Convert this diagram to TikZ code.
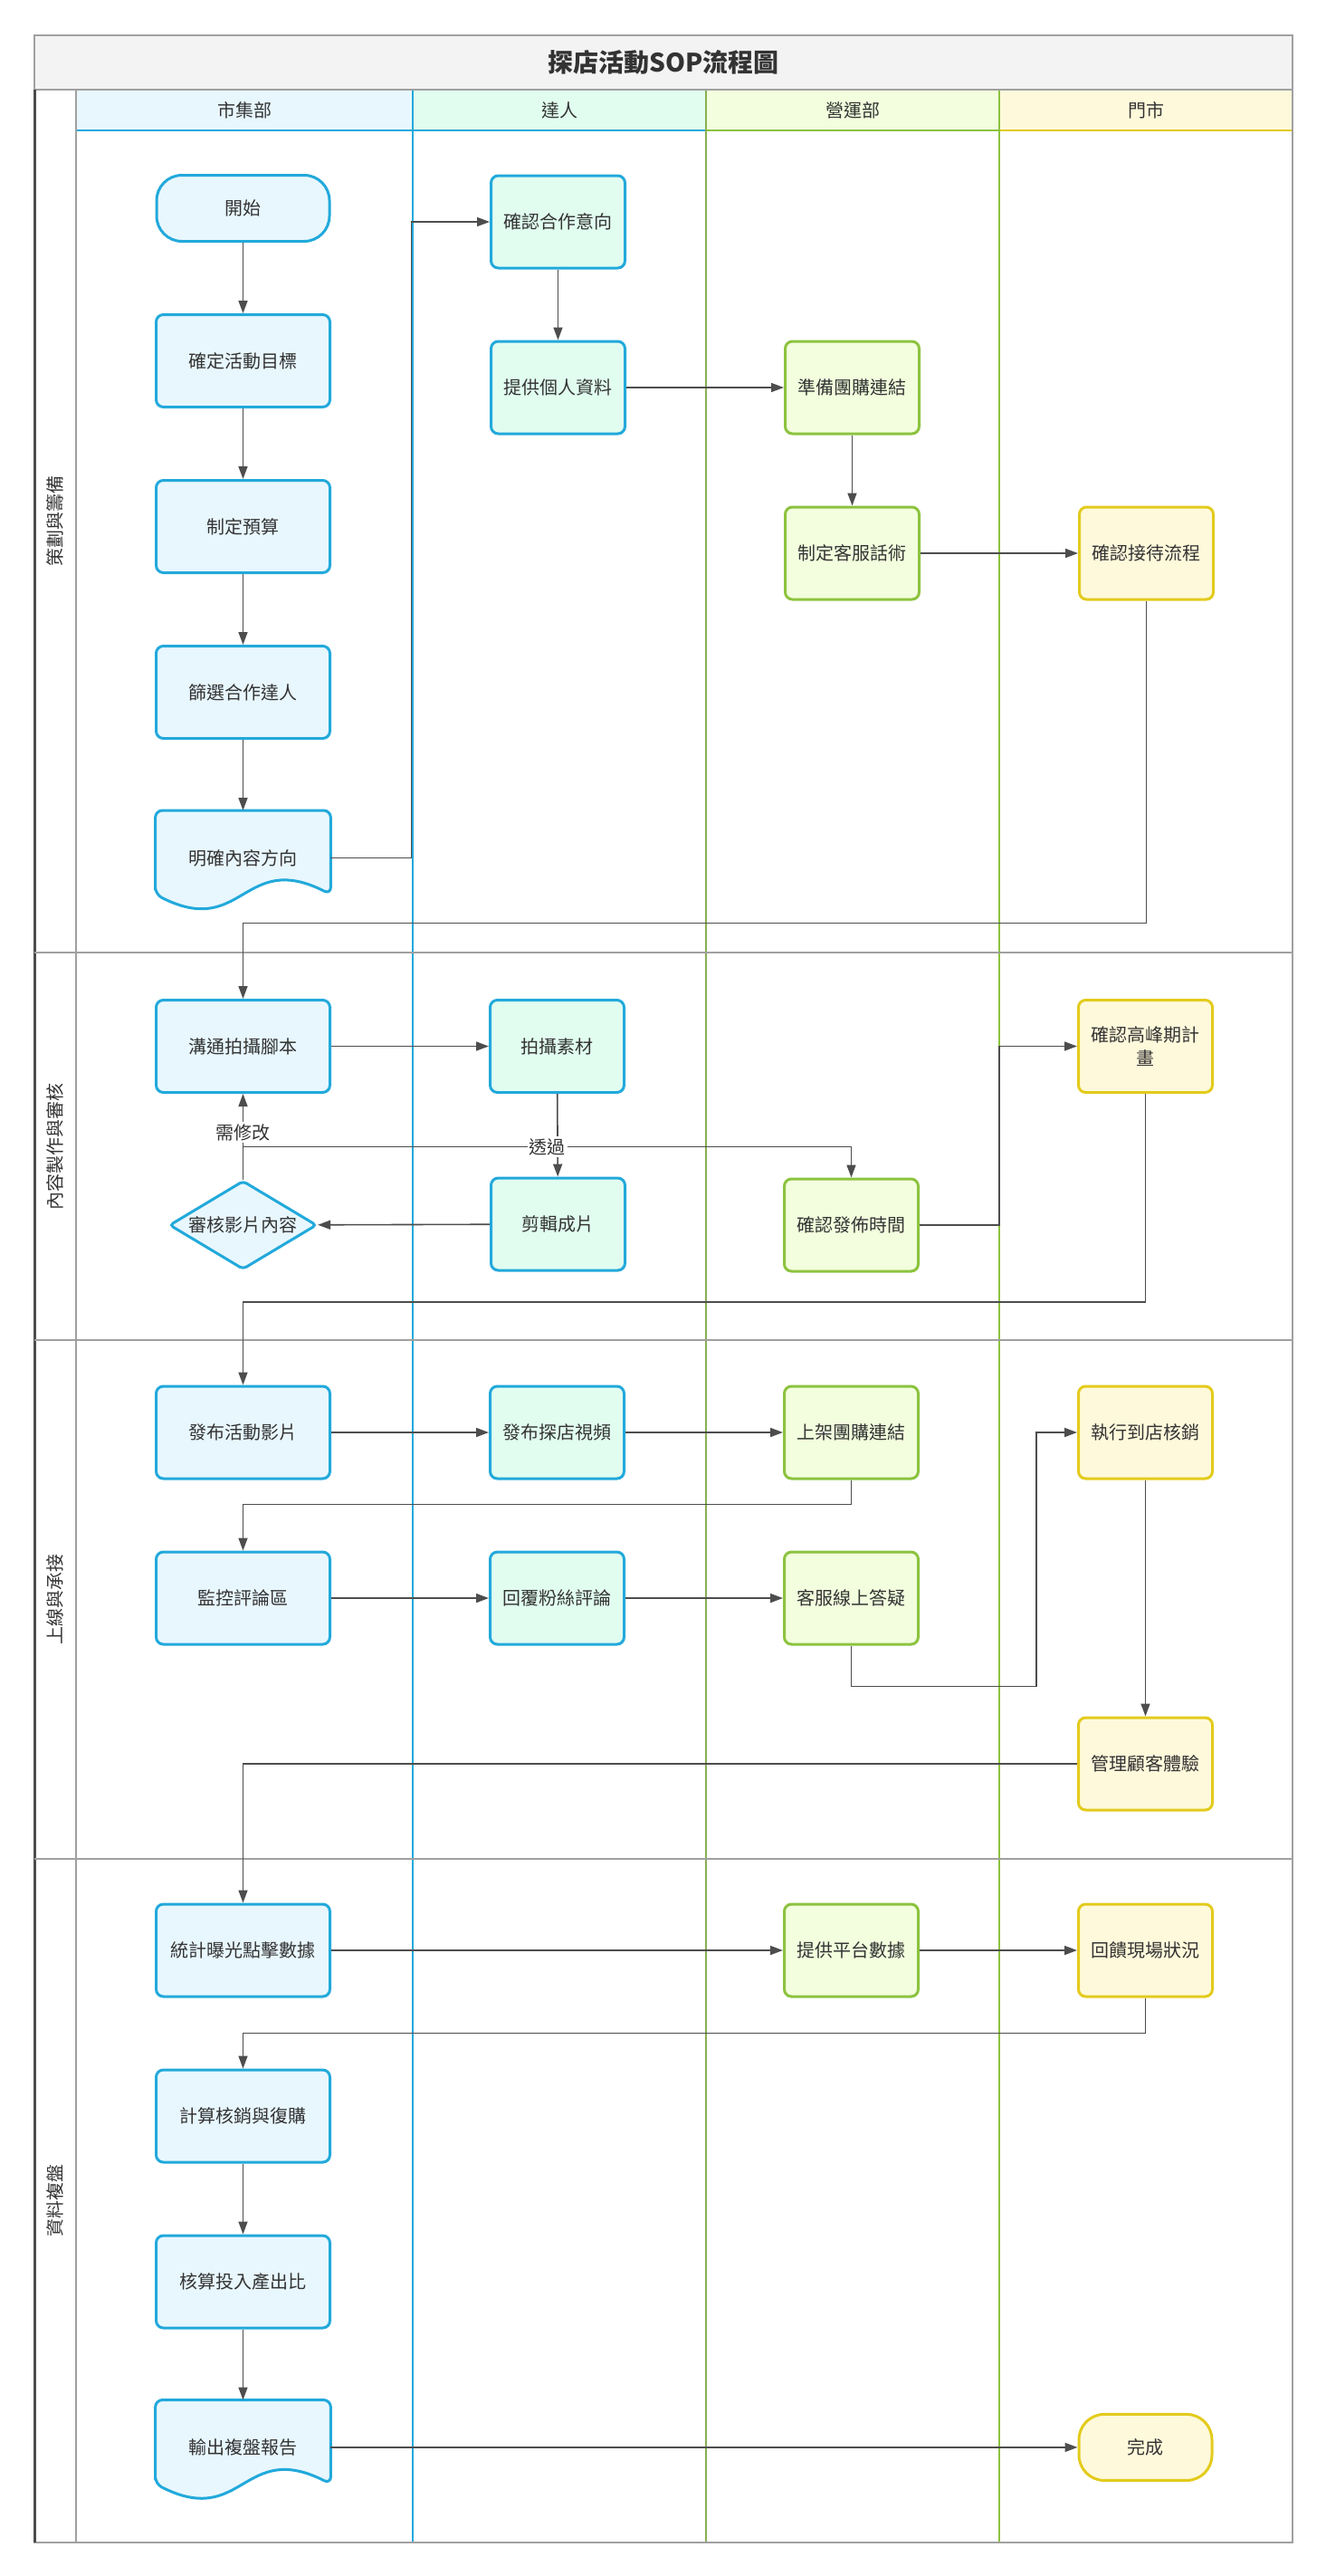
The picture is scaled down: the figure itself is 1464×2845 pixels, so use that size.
\documentclass[tikz,border=0pt]{standalone}
\usepackage{fontspec}
\setmainfont{Noto Sans CJK TC}
\usepackage{xcolor}
\usepackage{tikz}
\usetikzlibrary{arrows.meta, positioning, shapes.geometric, calc}
\pgfdeclarelayer{background}
\pgfsetlayers{background,main}

\definecolor{mktfill}{HTML}{E8F7FE}
\definecolor{kolfill}{HTML}{E1FDF0}
\definecolor{opsfill}{HTML}{F2FEDD}
\definecolor{shopfill}{HTML}{FFF9DB}
\definecolor{blueline}{HTML}{22A9DB}
\definecolor{greenline}{HTML}{8CC33F}
\definecolor{yellowline}{HTML}{E3CB1C}
\definecolor{edgegray}{HTML}{4D4D4D}
\definecolor{framegray}{HTML}{A0A0A0}
\definecolor{titlefill}{HTML}{F3F3F3}
\definecolor{textgray}{HTML}{333333}

\newcommand{\drawdoc}[2]{%
  \begin{pgfonlayer}{background}
    \draw[line width=1.5pt, draw=#2, fill=mktfill, rounded corners=4pt]
      ($(#1.south west)+(0,-12)$) -- (#1.north west) -- (#1.north east)
      -- ($(#1.south east)+(0,-12)$)
      .. controls ($(#1.south)+(0,-61)$) and ($(#1.south)+(0,37)$) .. ($(#1.south west)+(0,-12)$) -- cycle;
  \end{pgfonlayer}}

\begin{document}
\begin{tikzpicture}[
    x=0.5pt, y=-0.5pt,
    node distance=39pt and 87pt,
    txt/.style={text=textgray, font=\fontsize{10pt}{13pt}\selectfont},
    box/.style={txt, rectangle, rounded corners=4pt, line width=1.5pt, minimum width=74pt, minimum height=51pt, align=center, inner sep=2pt},
    mkt/.style={box, draw=blueline, fill=mktfill, minimum width=96pt},
    kol/.style={box, draw=blueline, fill=kolfill},
    ops/.style={box, draw=greenline, fill=opsfill},
    shop/.style={box, draw=yellowline, fill=shopfill},
    term/.style={txt, rectangle, rounded corners=14pt, line width=1.5pt, minimum height=36.5pt},
    decision/.style={txt, diamond, rounded corners=2pt, draw=blueline, fill=mktfill, line width=1.5pt, aspect=1.64, minimum width=81.5pt, minimum height=49pt, inner sep=0pt},
    doc/.style={txt, rectangle, minimum width=96.5pt, minimum height=52pt},
    head/.style={txt},
    phase/.style={txt, rotate=90},
    lbl/.style={txt, fill=white, inner sep=1pt},
    arrow/.style={-{Triangle[length=7pt, width=5pt]}, line width=0.8pt, draw=edgegray}
]

\useasboundingbox (0,0) rectangle (1464,2845);

% frame and lanes
\draw[framegray, fill=titlefill, line width=0.8pt] (38,39) rectangle (1428,99);
\node[txt, font=\fontsize{14pt}{16pt}\selectfont\bfseries] (title) at (733,69) {探店活動SOP流程圖};

\foreach \xa/\xb/\fc/\lc/\lname [count=\i] in {84/456/mktfill/blueline/市集部, 456/780/kolfill/blueline/達人, 780/1104/opsfill/greenline/營運部, 1104/1428/shopfill/yellowline/門市} {
  \fill[\fc] (\xa,99) rectangle (\xb,144);
  \draw[\lc, line width=1.2pt] (\xa,144) -- (\xb,144);
  \node[head] (lane\i) at ({(\xa+\xb)/2},121.5) {\lname};
}

\draw[framegray, line width=0.8pt] (84,99) -- (84,2808);
\draw[blueline, line width=0.6pt] (456,99) -- (456,2808);
\draw[greenline!70!gray, line width=0.6pt] (780,99) -- (780,2808);
\draw[greenline, line width=0.6pt] (1104,99) -- (1104,2808);
\draw[framegray, line width=0.8pt] (38,99) rectangle (1428,2808);
\draw[black!70, line width=1.5pt] (38,99) -- (38,2808);
\foreach \y in {1052,1480,2053}
  \draw[framegray, line width=0.8pt] (38,\y) -- (1428,\y);

\node[phase] (plan) at (60.5,575) {策劃與籌備};
\node[phase] (produce) at (60.5,1266) {內容製作與審核};
\node[phase] (golive) at (60.5,1766) {上線與承接};
\node[phase] (recap) at (60.5,2430) {資料複盤};

% 策劃與籌備
\node[term, draw=blueline, fill=mktfill, minimum width=95.5pt] (start) at (268.5,230) {開始};
\node[mkt, below=of start] (goal) {確定活動目標};
\node[mkt, below=of goal] (budget) {制定預算};
\node[mkt, below=of budget] (pick) {篩選合作達人};
\node[doc, below=of pick] (direction) {明確內容方向};
\drawdoc{direction}{blueline}
\node[kol] (intent) at (616.5,245) {確認合作意向};
\node[kol, below=of intent] (profile) {提供個人資料};
\node[ops, right=of profile] (grouplink) {準備團購連結};
\node[ops, below=of grouplink] (script) {制定客服話術};
\node[shop, right=of script] (reception) {確認接待流程};

% 內容製作與審核
\node[mkt] (brief) at (268.5,1155.5) {溝通拍攝腳本};
\node[kol, right=of brief] (shoot) {拍攝素材};
\node[kol] (edit) at (616.5,1352) {剪輯成片};
\node[decision] (review) at (268.5,1353) {審核影片內容};
\node[ops] (posttime) at (940.5,1353) {確認發佈時間};
\node[shop] (peak) at (1265.5,1155.5) {確認高峰期計\\畫};

% 上線與承接
\node[mkt] (launch) at (268.5,1582) {發布活動影片};
\node[kol, right=of launch] (vlog) {發布探店視頻};
\node[ops, right=of vlog] (listing) {上架團購連結};
\node[shop, right=of listing] (redeem) {執行到店核銷};
\node[mkt, below=of launch] (monitor) {監控評論區};
\node[kol, right=of monitor] (reply) {回覆粉絲評論};
\node[ops, right=of reply] (support) {客服線上答疑};
\node[shop] (experience) at (1265.5,1948) {管理顧客體驗};

% 資料複盤
\node[mkt] (stats) at (268.5,2154) {統計曝光點擊數據};
\node[ops] (platform) at (940.5,2154) {提供平台數據};
\node[shop, right=of platform] (feedback) {回饋現場狀況};
\node[mkt, below=of stats] (repurchase) {計算核銷與復購};
\node[mkt, below=of repurchase] (roi) {核算投入產出比};
\node[doc, below=of roi] (report) {輸出複盤報告};
\drawdoc{report}{blueline}
\node[term, draw=yellowline, fill=shopfill, minimum width=73.5pt] (finish) at (report -| peak) {完成};

\draw[arrow] (start) -- (goal);
\draw[arrow] (goal) -- (budget);
\draw[arrow] (budget) -- (pick);
\draw[arrow] (pick) -- (direction);
\draw[arrow] (direction.east) -- ++(89,0) |- (intent.west);
\draw[arrow] (intent) -- (profile);
\draw[arrow] (profile) -- (grouplink);
\draw[arrow] (grouplink) -- (script);
\draw[arrow] (script) -- (reception);
\draw[arrow] (reception.south) -- ++(0,356) -| (brief.north);

\draw[arrow] (brief) -- (shoot);
\draw[arrow] (shoot) -- (edit);
\draw[arrow] (edit) -- (review);
\draw[arrow] (review.north) -- node[lbl, pos=.55] {需修改} (brief.south);
\draw[arrow] (review.north) -- ++(0,-36) -| node[lbl, pos=.25] {透過} (posttime.north);
\draw[arrow] (posttime.east) -- ++(88,0) |- (peak.west);
\draw[arrow] (peak.south) -- ++(0,230) -| (launch.north);

\draw[arrow] (launch) -- (vlog);
\draw[arrow] (vlog) -- (listing);
\draw[arrow] (listing.south) -- ++(0,27) -| (monitor.north);
\draw[arrow] (monitor) -- (reply);
\draw[arrow] (reply) -- (support);
\draw[arrow] (support.south) -- ++(0,45) -| ($(redeem.west)+(-45,0)$) -- (redeem.west);
\draw[arrow] (redeem) -- (experience);
\draw[arrow] (experience.west) -| (stats.north);

\draw[arrow] (stats) -- (platform);
\draw[arrow] (platform) -- (feedback);
\draw[arrow] (feedback.south) -- ++(0,39) -| (repurchase.north);
\draw[arrow] (repurchase) -- (roi);
\draw[arrow] (roi) -- (report);
\draw[arrow] (report) -- (finish);

\end{tikzpicture}
\end{document}
